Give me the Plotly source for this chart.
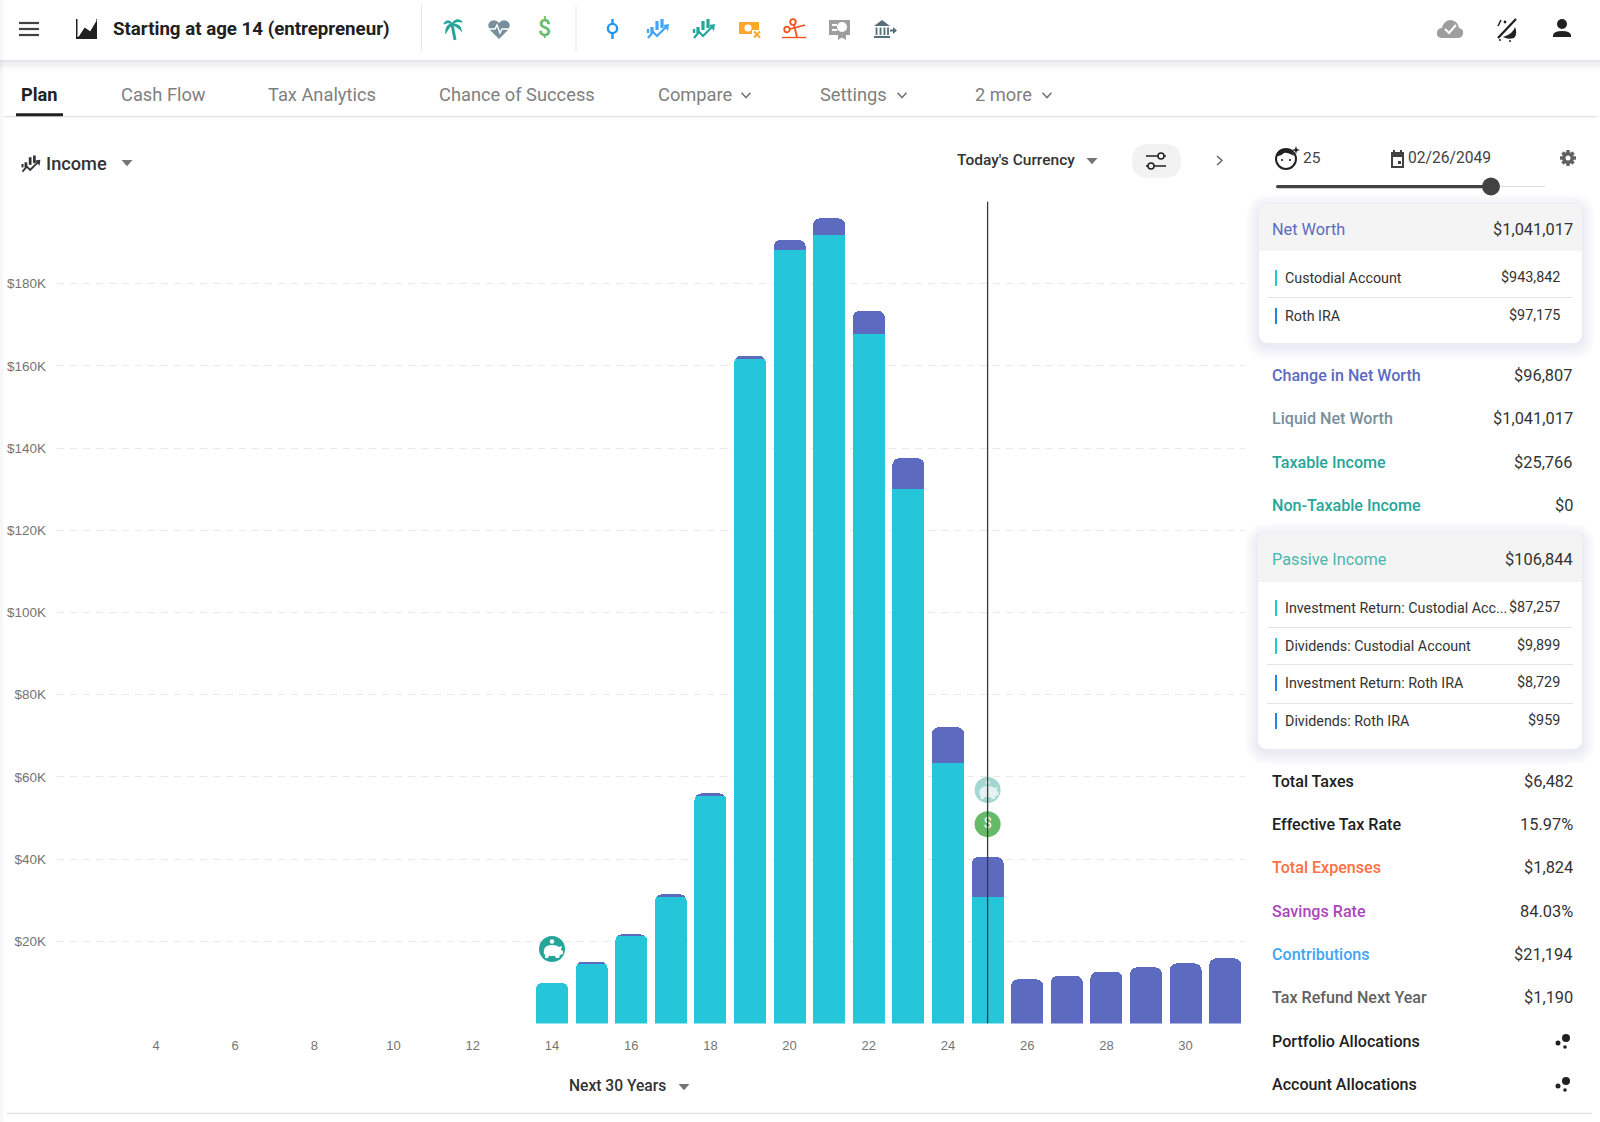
import plotly.graph_objects as go

ages = [14, 15, 16, 17, 18, 19, 20, 21, 22, 23, 24, 25, 26, 27, 28, 29, 30, 31]
custodial_income = [9930, 14480, 21200, 30780, 55430, 161600, 188200, 191900, 167800, 130100, 63300, 30700, 0, 0, 0, 0, 0, 0]
roth_income = [0, 560, 500, 650, 570, 800, 2430, 4000, 5600, 7440, 8800, 9800, 10750, 11630, 12600, 13660, 14630, 15850]
y_tick_values = [0, 20000, 40000, 60000, 80000, 100000, 120000, 140000, 160000, 180000, 200000]
y_tick_labels = ["", "$20K", "$40K", "$60K", "$80K", "$100K", "$120K", "$140K", "$160K", "$180K", ""]
x_tick_values = [4, 6, 8, 10, 12, 14, 16, 18, 20, 22, 24, 26, 28, 30]
event_ages = [14, 25, 25]
event_values = [18130, 56800, 48500]
event_colors = ["#26a69a", "#a3d8d2", "#66bb6a"]
event_labels = ["", "", "$"]
selected_age = 25
tabs = [("Plan", 21), ("Cash Flow", 121), ("Tax Analytics", 268), ("Chance of Success", 439), ("Compare", 658), ("Settings", 820), ("2 more", 975)]
card1_rows = [("Custodial Account", "$943,842", "#26c6da", 278), ("Roth IRA", "$97,175", "#1e88e5", 316)]
card2_rows = [("Investment Return: Custodial Acc...", "$87,257", "#26c6da", 608), ("Dividends: Custodial Account", "$9,899", "#26c6da", 646),
              ("Investment Return: Roth IRA", "$8,729", "#1e88e5", 683), ("Dividends: Roth IRA", "$959", "#1e88e5", 721)]
metric_rows_a = [("Change in Net Worth", "$96,807", "#5c6bc0", 375), ("Liquid Net Worth", "$1,041,017", "#78909c", 418),
                 ("Taxable Income", "$25,766", "#26a69a", 462), ("Non-Taxable Income", "$0", "#26a69a", 505)]
metric_rows_b = [("Total Taxes", "$6,482", "#212121", 781), ("Effective Tax Rate", "15.97%", "#212121", 824),
                 ("Total Expenses", "$1,824", "#ff7043", 867), ("Savings Rate", "84.03%", "#ab47bc", 911),
                 ("Contributions", "$21,194", "#42a5f5", 954), ("Tax Refund Next Year", "$1,190", "#616161", 997),
                 ("Portfolio Allocations", "", "#212121", 1041), ("Account Allocations", "", "#212121", 1084)]

W, H = 1600, 1122
shapes, notes = [], []


def base(**k):
    k.update(xref="x2", yref="y2", layer="above")
    shapes.append(k)


def path(d, fill=None, color=None, width=0):
    base(type="path", path=d, fillcolor=fill or "rgba(0,0,0,0)", line=dict(color=color or "rgba(0,0,0,0)", width=width))


def poly(pts, fill=None, color=None, width=0, close=False):
    d = "M" + " L".join(f"{x},{y}" for x, y in pts) + (" Z" if close else "")
    path(d, fill, color, width)


def rect(x0, y0, x1, y1, fill):
    base(type="rect", x0=x0, y0=y0, x1=x1, y1=y1, fillcolor=fill, line=dict(width=0))


def circ(cx, cy, r, fill=None, color=None, width=0):
    base(type="circle", x0=cx - r, x1=cx + r, y0=cy - r, y1=cy + r, fillcolor=fill or "rgba(0,0,0,0)",
         line=dict(color=color or "rgba(0,0,0,0)", width=width))


def rrect(x0, y0, x1, y1, r, fill, bottom=True):
    rb = r if bottom else 0
    d = (f"M{x0 + r},{y0} L{x1 - r},{y0} Q{x1},{y0} {x1},{y0 + r} L{x1},{y1 - rb} Q{x1},{y1} {x1 - rb},{y1} "
         f"L{x0 + rb},{y1} Q{x0},{y1} {x0},{y1 - rb} L{x0},{y0 + r} Q{x0},{y0} {x0 + r},{y0} Z")
    path(d, fill)


def text(x, y, s, size=15, color="#333333", anchor="left", weight=400, family="Roboto"):
    notes.append(dict(x=x, y=y, xref="x2", yref="y2", text=s, showarrow=False, xanchor=anchor, yanchor="middle",
                      font=dict(size=size, color=color, family=family, weight=weight), borderpad=0, borderwidth=0))


def tri(cx, cy, color="#757575", s=5.5):
    poly([(cx - s, cy - s * 0.55), (cx + s, cy - s * 0.55), (cx, cy + s * 0.6)], fill=color, close=True)


def chev(cx, cy, color="#757575", s=4.5):
    poly([(cx - s, cy - s * 0.5), (cx, cy + s * 0.55), (cx + s, cy - s * 0.5)], color=color, width=1.6)


def shadow(x0, y0, x1, y1, r):
    for i in range(10, 0, -1):
        g = i * 1.3
        rrect(x0 - g, y0 - g + 3, x1 + g, y1 + g + 3, r + g, "rgba(60,60,80,0.009)")


def chart_icon(cx, cy, c, k=1.0):
    for dx, t, b in [(-6, -2, 4), (-1, -8, 1), (4, -10, -1)]:
        poly([(cx + dx * k, cy + t * k), (cx + dx * k, cy + b * k)], color=c, width=3.2 * k)
    poly([(cx - 10 * k, cy + 9 * k), (cx - 5 * k, cy + 3 * k), (cx - 1 * k, cy + 7 * k), (cx + 8 * k, cy - 2 * k)], color=c, width=2.2 * k)
    poly([(cx + 5 * k, cy - 4 * k), (cx + 11 * k, cy - 5 * k), (cx + 10 * k, cy + 2 * k)], fill=c, close=True)
    poly([(cx - 10 * k, cy + 0 * k), (cx - 10 * k, cy + 4 * k)], color=c, width=2.4 * k)


def piggy(dx, dy, c):
    path(f"M{544 + dx},{950 + dy} Q{545 + dx},{945 + dy} {552 + dx},{945 + dy} Q{557 + dx},{945 + dy} {559 + dx},{947 + dy} "
         f"L{562 + dx},{946 + dy} L{561 + dx},{950 + dy} L{563 + dx},{951 + dy} L{563 + dx},{954 + dy} L{560 + dx},{955 + dy} "
         f"L{559 + dx},{958 + dy} L{556 + dx},{958 + dy} L{555 + dx},{956 + dy} L{549 + dx},{956 + dy} L{548 + dx},{958 + dy} "
         f"L{545 + dx},{958 + dy} L{545 + dx},{955 + dy} Q{543 + dx},{953 + dy} {544 + dx},{950 + dy} Z", c)
    circ(552 + dx, 941.5 + dy, 2.2, c)


# page chrome
rect(0, 0, 3, H, "rgba(0,0,0,0.03)")
for i in range(14):
    rect(0, 60 + i, W, 61 + i, f"rgba(60,60,90,{0.13 * (1 - i / 14) ** 2:.3f})")
rect(3, 116, W - 3, 117.3, "#e3e3e3")
rect(7, 1112.7, 1592, 1114, "#e3e3e3")

# header
for y in (23, 29, 35):
    rect(19, y - 1.1, 39, y + 1.1, "#424242")
poly([(76, 39), (76, 19), (77.5, 19), (77.5, 37), (79, 36), (85, 27), (90, 31), (96.5, 19), (97, 19), (97, 39)], fill="#212121", close=True)
poly([(78, 36), (84, 26), (90, 30), (96, 20)], color="white", width=1.6)
text(113, 28.5, "Starting at age 14 (entrepreneur)", 18.7, "#212121", weight=700)
rect(421, 6, 422, 51, "#e6e6e6")
rect(575.5, 6, 576.5, 51, "#e6e6e6")

# palm
poly([(455, 40), (453.5, 32), (452, 24)], color="#26a69a", width=3)
path("M452,24 Q448,18 444,24 Q448,21 452,24 Z", "#26a69a", "#26a69a", 1.5)
path("M452,24 Q457,17 462,22 Q457,20 452,24 Z", "#26a69a", "#26a69a", 1.5)
path("M452,24 Q446,25 446,32 Q449,27 452,24 Z", "#26a69a", "#26a69a", 1.5)
path("M452,24 Q460,24 461,30 Q457,26 452,24 Z", "#26a69a", "#26a69a", 1.5)
# heart
path("M499,39 L490,30 Q486,24 491,21 Q496,19 499,23 Q502,19 507,21 Q512,24 508,30 Z", "#78909c")
poly([(487, 29), (495, 29), (497, 25), (500, 33), (502, 29), (511, 29)], color="white", width=1.5)
text(544, 28.5, "$", 23, "#66bb6a", "center", 500)
# pin
poly([(612.5, 19), (612.5, 39)], color="#2196f3", width=2.4)
circ(612.5, 28.5, 4.6, "white", "#2196f3", 2.4)
chart_icon(658, 29, "#42a5f5")
chart_icon(704, 29, "#26a69a")
# orange
rect(739, 22, 759, 34, "#ffa726")
circ(748, 28, 3.6, "white")
rect(752, 30, 761, 38, "white")
poly([(754, 31.5), (760, 37.5)], color="#ffa726", width=2)
poly([(760, 31.5), (754, 37.5)], color="#ffa726", width=2)
# scissors
circ(793, 22, 2.8, None, "#f4511e", 1.8)
circ(787, 29.5, 2.8, None, "#f4511e", 1.8)
poly([(794, 25), (797, 37)], color="#f4511e", width=1.8)
poly([(790, 29), (805, 25)], color="#f4511e", width=1.8)
poly([(782, 37.5), (806, 37.5)], color="#f4511e", width=1.4)
# certificate
rect(829, 20, 850, 35, "#9e9e9e")
circ(842, 27, 5, "white")
rect(832, 24, 837, 26, "white")
rect(832, 29, 837, 31, "white")
poly([(838, 34), (846, 34), (846, 40), (842, 37.5), (838, 40)], fill="#9e9e9e", close=True)
# bank
poly([(874, 26), (882, 20), (890, 26)], fill="#546e7a", close=True)
rect(874, 36, 890, 38, "#546e7a")
for x in (876.5, 880.5, 884.5, 888):
    rect(x - 0.9, 27.5, x + 0.9, 35, "#546e7a")
poly([(890, 30.5), (894, 30.5)], color="#546e7a", width=2)
poly([(893, 27), (897, 30.5), (893, 34)], fill="#546e7a", close=True)
# cloud
path("M1443,38 Q1436,38 1437,32 Q1438,28 1442,28 Q1444,20 1451,20 Q1458,21 1459,28 Q1464,29 1463,34 Q1462,38 1458,38 Z", "#9e9e9e")
poly([(1445, 29), (1449, 33), (1456, 25)], color="white", width=2)
# slash icon
poly([(1498, 38), (1516, 19)], color="#212121", width=2.3)
poly([(1501, 20), (1498, 26)], color="#212121", width=1.6)
circ(1505, 22, 1.4, "#212121")
path("M1503,37 Q1513,34 1515,27 Q1518,34 1514,38 Q1508,40 1503,37 Z", "#212121")
circ(1500, 40, 1, "#212121")
circ(1510, 41, 1, "#212121")
# person
circ(1562, 24, 5, "#212121")
path("M1553,37 L1553,35 Q1554,31 1562,31 Q1570,31 1571,35 L1571,37 Z", "#212121")

# tabs
for i, (name, x) in enumerate(tabs):
    if i == 0:
        text(x, 94, name, 18.2, "#212121", weight=700)
    else:
        text(x, 94, name, 18.3, "#808080")
rect(16, 113.3, 63, 116.3, "#212121")
chev(746, 95)
chev(902, 95)
chev(1047, 95)

# chart controls
chart_icon(31, 164, "#333333", 0.85)
text(46, 163.5, "Income", 18.2, "#333333", weight=500)
tri(127, 163)
text(957, 160, "Today's Currency", 15.5, "#333333", weight=500)
tri(1092, 161)
rrect(1132, 144, 1181, 178, 17, "#f2f2f2")
poly([(1146, 156), (1166, 156)], color="#212121", width=1.5)
poly([(1146, 166), (1166, 166)], color="#212121", width=1.5)
circ(1161, 156, 3, "#f2f2f2", "#212121", 1.5)
circ(1151, 166, 3, "#f2f2f2", "#212121", 1.5)
poly([(1217, 156), (1222, 160.5), (1217, 165)], color="#616161", width=1.4)
text(569, 1086, "Next 30 Years", 15.6, "#333333", weight=500)
tri(684, 1087)

# right column head
circ(1286, 159, 10, "white", "#212121", 2)
path("M1276,156 Q1277,148 1287,149 Q1292,150 1294,156 Q1287,152 1284,153 Q1280,157 1276,156 Z", "#212121")
circ(1282, 160, 1.1, "#212121")
circ(1290, 160, 1.1, "#212121")
poly([(1296, 146), (1297, 149), (1300, 150), (1297, 151), (1296, 154), (1295, 151), (1292, 150), (1295, 149)], fill="#212121", close=True)
text(1303, 158, "25", 15.5, "#424242")
rect(1391, 152, 1404, 168, "#424242")
rect(1393, 157, 1402, 166, "white")
rect(1398, 161, 1401, 164, "#424242")
rect(1393, 150, 1395, 153, "#424242")
rect(1400, 150, 1402, 153, "#424242")
text(1408, 158, "02/26/2049", 15.6, "#424242")
for a, b in [((1568, 150), (1568, 166)), ((1560, 158), (1576, 158)), ((1562.5, 152.5), (1573.5, 163.5)), ((1573.5, 152.5), (1562.5, 163.5))]:
    poly([a, b], color="#616161", width=3.4)
circ(1568, 158, 6, "#616161")
circ(1568, 158, 2.5, "white")
rect(1491, 186, 1545, 187, "#dedede")
rrect(1276, 185, 1491, 188.2, 1.6, "#424242")
circ(1491, 186.5, 9, "#424242")

# cards
shadow(1259, 204, 1582, 343, 10)
rrect(1259, 204, 1582, 343, 10, "white")
rrect(1259, 204, 1582, 251, 10, "#f4f4f4", bottom=False)
text(1272, 229, "Net Worth", 16.3, "#5c6bc0", weight=400)
text(1573, 229, "$1,041,017", 16.4, "#333333", "right")
for name, val, col, y in card1_rows:
    rect(1275, y - 8, 1277, y + 8, col)
    text(1285, y, name, 14.3, "#333333")
    text(1560, y - 1, val, 14.4, "#333333", "right")
rect(1267, 297, 1573, 298, "#e3e3e3")

shadow(1258, 533, 1582, 749, 10)
rrect(1258, 533, 1582, 749, 10, "white")
rrect(1258, 533, 1582, 582, 10, "#f4f4f4", bottom=False)
text(1272, 559, "Passive Income", 16.3, "#4db6ac", weight=400)
text(1573, 559, "$106,844", 16.4, "#333333", "right")
for name, val, col, y in card2_rows:
    rect(1275, y - 8, 1277, y + 8, col)
    text(1285, y, name, 14.3, "#333333")
    text(1560, y - 1, val, 14.4, "#333333", "right")
for y in (627, 664, 703):
    rect(1267, y, 1573, y + 1, "#e3e3e3")

for name, val, col, y in metric_rows_a:
    text(1272, y, name, 16.1, col, weight=500)
    text(1573, y, val, 16.4, "#333333", "right")
for name, val, col, y in metric_rows_b:
    text(1272, y, name, 16.1, col, weight=500)
    if val:
        text(1573, y, val, 16.4, "#333333", "right")
for y in (1038, 1081):
    circ(1566, y, 4, "#212121")
    circ(1558, y + 5, 2.5, "#212121")
    circ(1565, y + 9, 1.8, "#212121")

# glyphs on the event markers
piggy(0, 0, "white")
piggy(435.6, -159, "rgba(255,255,255,0.7)")

fig = go.Figure()
fig.add_bar(x=ages, y=custodial_income, marker=dict(color="#26c6da", line=dict(width=0), cornerradius=7), name="Custodial Account")
fig.add_bar(x=ages, y=roth_income, marker=dict(color="#5c6bc0", line=dict(width=0), cornerradius=7), name="Roth IRA")
fig.add_scatter(x=event_ages, y=event_values, mode="markers+text", text=event_labels, textposition="middle center",
                textfont=dict(color="white", size=15, family="Roboto"), cliponaxis=False,
                marker=dict(size=26, color=event_colors, line=dict(width=0)), showlegend=False)
shapes.append(dict(type="line", xref="x", yref="y", x0=selected_age, x1=selected_age, y0=0, y1=y_tick_values[-1],
                   line=dict(color="#3a3a3a", width=1.3), layer="above"))

fig.update_layout(
    width=W, height=H, autosize=False, margin=dict(l=0, r=0, t=0, b=0), paper_bgcolor="white", plot_bgcolor="rgba(0,0,0,0)",
    barmode="stack", bargap=0.19, showlegend=False, shapes=shapes, annotations=notes,
    xaxis=dict(domain=[57 / W, 1245 / W], range=[1.5, 31.5], tickmode="array", tickvals=x_tick_values, showgrid=False,
               zeroline=False, showline=False, ticks="", ticklabelstandoff=12, anchor="y",
               tickfont=dict(family="Liberation Sans", size=13, color="#757575")),
    yaxis=dict(domain=[1 - 1023.5 / H, 1 - 201.5 / H], range=[0, 200000], tickmode="array", tickvals=y_tick_values,
               ticktext=y_tick_labels, showgrid=True, gridcolor="#e8e8e8", griddash="7px,6px", gridwidth=1, zeroline=False,
               showline=False, ticks="", ticklabelstandoff=10, anchor="x",
               tickfont=dict(family="Liberation Sans", size=13.5, color="#757575")),
    xaxis2=dict(domain=[0, 1], range=[0, W], visible=False, anchor="y2", fixedrange=True),
    yaxis2=dict(domain=[0, 1], range=[H, 0], visible=False, anchor="x2", fixedrange=True),
)
fig.write_html("out.html", post_script="document.body.style.margin='0';", config={"displayModeBar": False})
